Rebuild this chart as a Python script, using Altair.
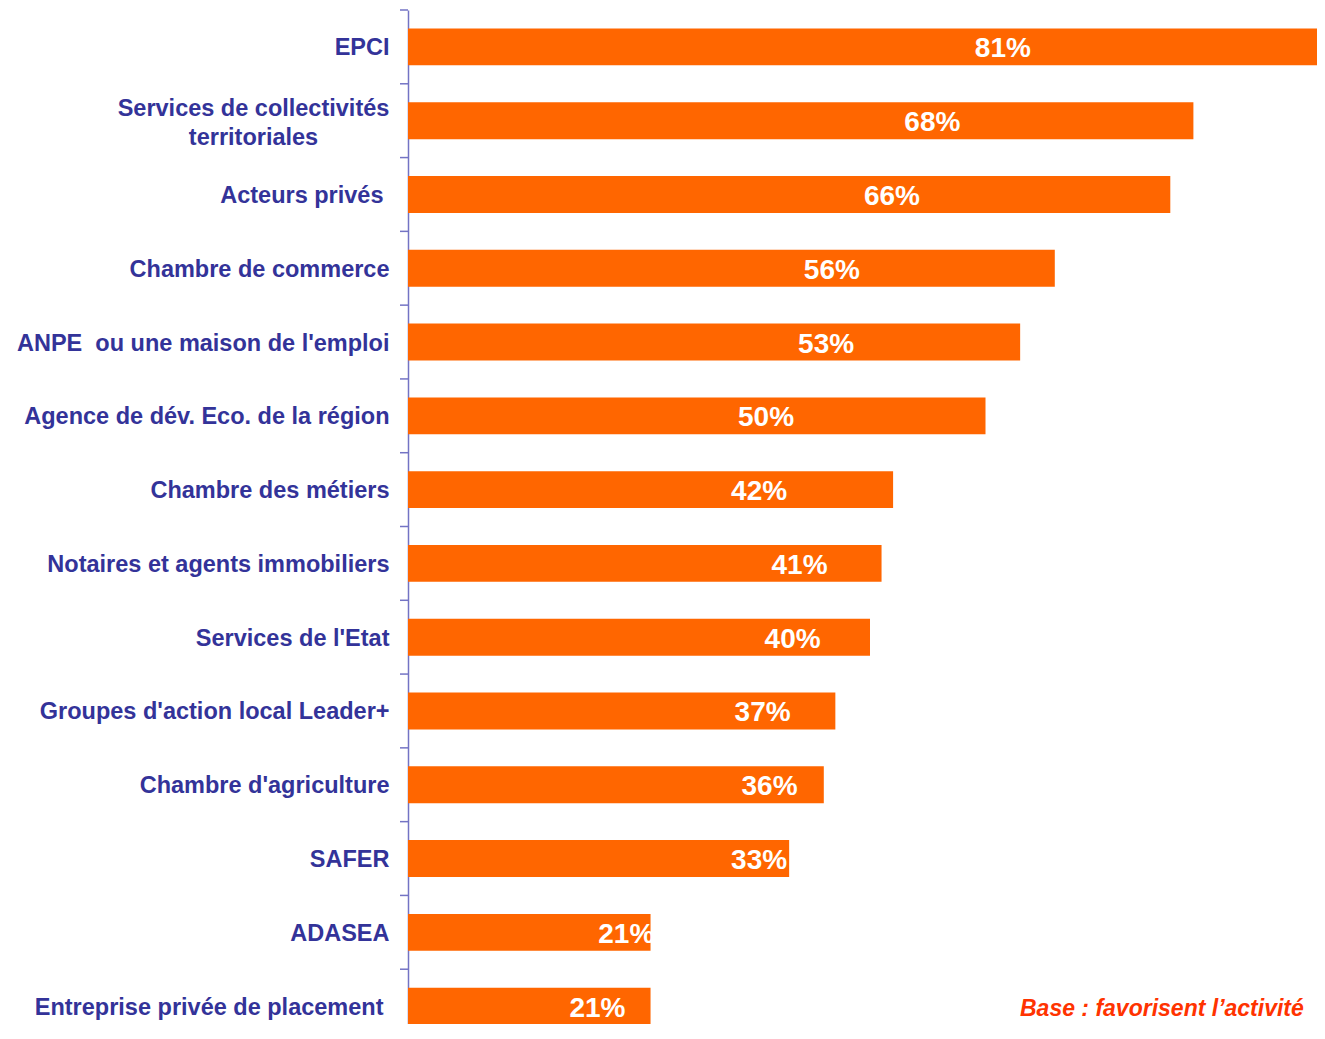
import altair as alt
import pandas as pd

categories = [
    "EPCI",
    "Services de collectivités|territoriales",
    "Acteurs privés\u00a0",
    "Chambre de commerce",
    "ANPE\u00a0 ou une maison de l'emploi",
    "Agence de dév. Eco. de la région",
    "Chambre des métiers",
    "Notaires et agents immobiliers",
    "Services de l'Etat",
    "Groupes d'action local Leader+",
    "Chambre d'agriculture",
    "SAFER",
    "ADASEA",
    "Entreprise privée de placement\u00a0",
]
values = [81, 68, 66, 56, 53, 50, 42, 41, 40, 37, 36, 33, 21, 21]
value_labels = ["81%", "68%", "66%", "56%", "53%", "50%", "42%", "41%", "40%",
                "37%", "36%", "33%", "21%", "21%"]
label_at = [51.5, 45.4, 41.9, 36.7, 36.2, 31.0, 30.4, 33.9, 33.3, 30.7, 31.3,
            30.4, 18.9, 16.4]
note = ["Base : favorisent l\u2019activité"]

df = pd.DataFrame({"cat": categories, "value": values, "label": value_labels,
                   "pos": label_at})
note_df = pd.DataFrame({"note": note})

W, H = 909, 1014
FULL_H = 1033
FONT = "Liberation Sans"
xs = alt.Scale(domain=[0, 909 / 11.55], nice=False, zero=True)
band = alt.Scale(paddingInner=0.5, paddingOuter=0.25, range=[0, FULL_H])

multi = "indexof(datum.value, '|') >= 0"
trailing = "slice(datum.value, -1) == '\u00a0'"

bars = alt.Chart(df).mark_bar(color="#FF6600", clip=True).encode(
    x=alt.X("value:Q", scale=xs, axis=None),
    y=alt.Y("cat:N", sort=categories, scale=band, title=None,
            axis=alt.Axis(
                ticks=False, tickSize=0, domain=True, domainColor="#7373C4",
                domainWidth=1.5, labelFont=FONT, labelFontSize=23.5,
                labelFontWeight="bold", labelColor="#333399",
                labelPadding={"condition": [
                    {"test": multi, "value": 155},
                    {"test": trailing, "value": 25}],
                    "value": 19},
                labelAlign={"condition": {"test": multi, "value": "center"},
                            "value": "right"},
                labelOffset={"condition": {"test": multi, "value": -11.5},
                             "value": 1.5},
                labelLimit=400, labelLineHeight=29,
                labelExpr="split(datum.label, '|')", grid=False,
            )),
)

texts = alt.Chart(df).mark_text(
    color="white", font=FONT, fontSize=28, fontWeight="bold",
    align="center", baseline="middle", dy=2.5, clip=True,
).encode(
    x=alt.X("pos:Q", scale=xs, axis=None),
    y=alt.Y("cat:N", sort=categories, scale=band, axis=None),
    text="label:N",
)

ticks = alt.Chart(df).mark_rule(color="#7373C4", strokeWidth=1.5).encode(
    y=alt.Y("cat:N", sort=categories, bandPosition=0,
            scale=alt.Scale(paddingInner=0, paddingOuter=0, range=[0, FULL_H]),
            axis=None),
    x=alt.value(-8),
    x2=alt.value(0),
)

note_layer = alt.Chart(note_df).mark_text(
    color="#FF3300", font=FONT, fontSize=23, fontWeight="bold",
    fontStyle="italic", align="left", baseline="alphabetic",
).encode(
    x=alt.value(612),
    y=alt.value(1006),
    text="note:N",
)

chart = alt.layer(bars, texts, ticks, note_layer).resolve_scale(
    y="independent"
).properties(
    width=W, height=H,
    autosize=alt.AutoSizeParams(type="none"),
    padding={"left": 400, "top": 2, "right": 0, "bottom": 0},
    background="white",
).configure_view(stroke=None)

chart.save("out.html", embed_options={"renderer": "svg", "actions": False})
